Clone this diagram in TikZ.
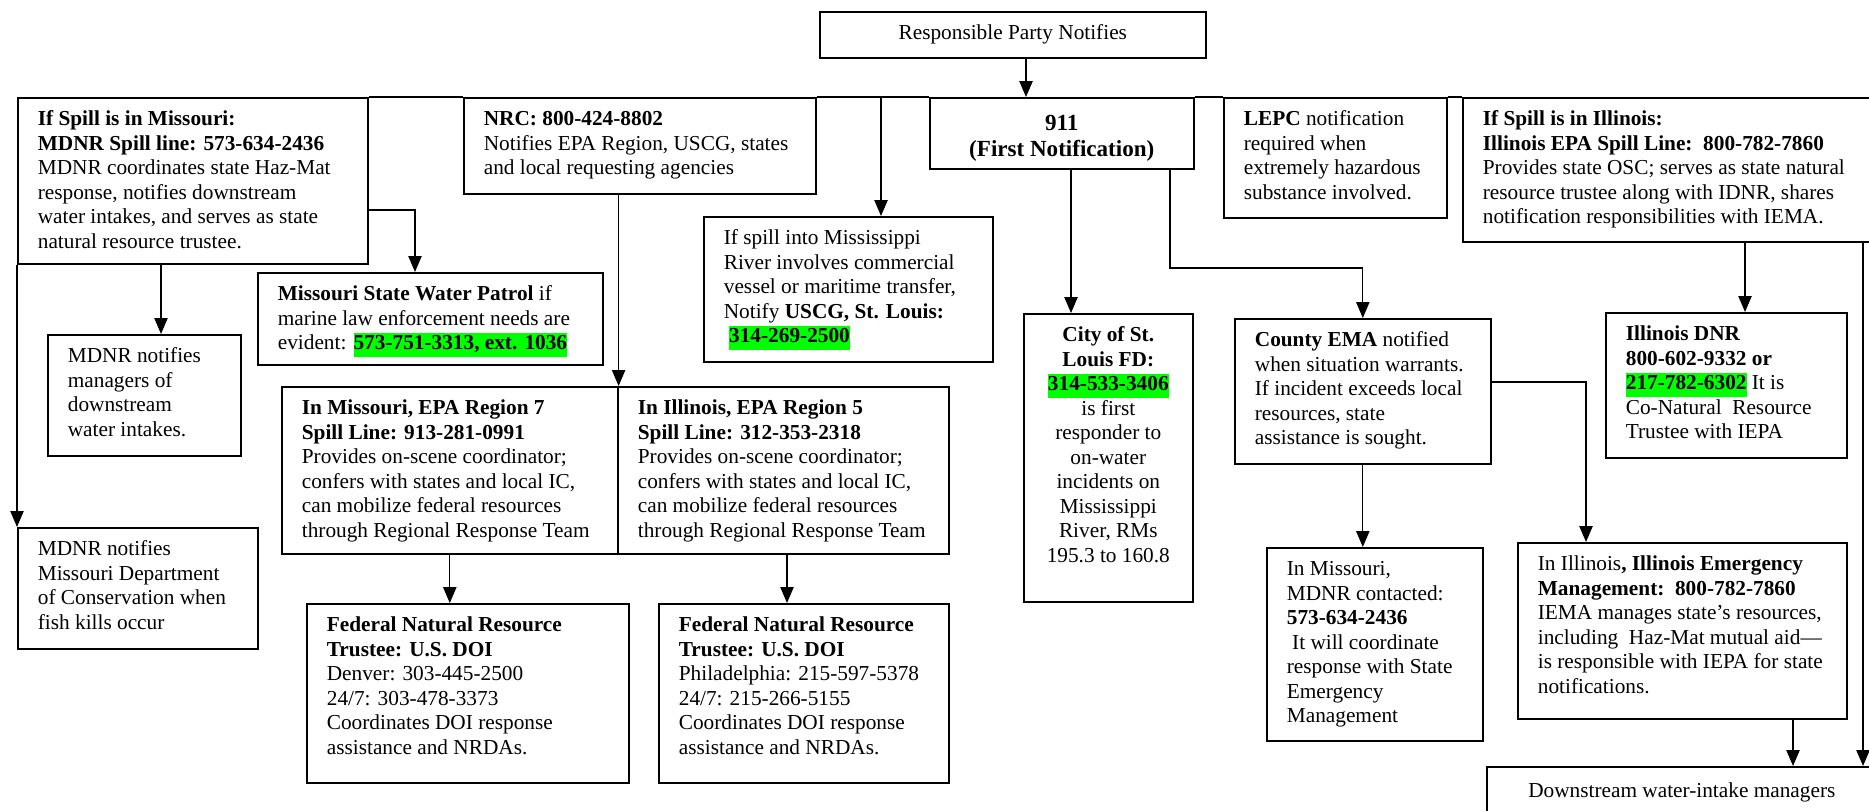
\documentclass[tikz,border=0pt]{standalone}
\usepackage{fontspec}
\setmainfont{Liberation Serif}
\usepackage{xcolor}
\usepackage{tikz}
\usetikzlibrary{arrows.meta}
\definecolor{hlgreen}{RGB}{0,255,0}
\newdimen\pxu
\pxu=0.5634pt
\newcommand{\hl}[1]{{\setlength{\fboxsep}{0pt}\colorbox{hlgreen}{\strut#1}}}
\newcommand{\cardtext}[4][\raggedright\leftskip=11.3pt\relax]{\begin{minipage}[t][#3\pxu][t]{#2\pxu}#1\rule{0pt}{15.8pt}#4\end{minipage}}

\begin{document}
\begin{tikzpicture}[x=0.5634pt,y=-0.5634pt,font=\fontsize{12}{13.8}\selectfont,
	card/.style={draw,line width=0.9pt,anchor=north west,inner sep=0pt},
	arr/.style={line width=0.75pt,-{Triangle[length=9pt,width=7.5pt]}},
	bus/.style={line width=1.3pt}]
	\useasboundingbox (0,0) rectangle (1869,810);
	\clip (0,0) rectangle (1869,810);
	
	\node[card] (top) at (819,11) {\cardtext[\centering]{386}{46}{Responsible Party Notifies}};
	\node[card] (mo) at (17,97) {\cardtext{350}{166}{\textbf{If Spill is in Missouri:}\\
		\textbf{MDNR Spill line: 573-634-2436}\\
		MDNR coordinates state Haz-Mat\\
		response, notifies downstream\\
		water intakes, and serves as state\\
		natural resource trustee.}};
	\node[card] (nrc) at (463,97) {\cardtext{352}{96}{\textbf{NRC: 800-424-8802}\\
		Notifies EPA Region, USCG, states\\
		and local requesting agencies}};
	\node[card] (n911) at (929,97) {\cardtext[\centering\vspace*{2.5pt}]{264}{71}{\fontsize{13}{15}\selectfont\bfseries 911\\(First Notification)}};
	\node[card] (lepc) at (1223,97) {\cardtext{223}{120}{\textbf{LEPC} notification\\
		required when\\
		extremely hazardous\\
		substance involved.}};
	\node[card] (il) at (1462,97) {\cardtext{410}{144}{\textbf{If Spill is in Illinois:}\\
		\textbf{Illinois EPA Spill Line:\ \ 800-782-7860}\\
		Provides state OSC; serves as state natural\\
		resource trustee along with IDNR, shares\\
		notification responsibilities with IEMA.}};
	\node[card] (miss) at (703,216) {\cardtext{289}{145}{If spill into Mississippi\\
		River involves commercial\\
		vessel or maritime transfer,\\
		Notify \textbf{USCG, St. Louis:}\\
		\hspace{3pt}\hl{\textbf{314-269-2500}}}};
	\node[card] (wp) at (257,272) {\cardtext{345}{92}{\textbf{Missouri State Water Patrol} if\\
		marine law enforcement needs are\\
		evident: \hl{\textbf{573-751-3313, ext. 1036}}}};
	\node[card] (mgr) at (47,334) {\cardtext{193}{121}{MDNR notifies\\
		managers of\\
		downstream\\
		water intakes.}};
	\node[card] (cons) at (17,527) {\cardtext{240}{121}{MDNR notifies\\
		Missouri Department\\
		of Conservation when\\
		fish kills occur}};
	\node[card] (epa7) at (281,386) {\cardtext{336}{167}{\textbf{In Missouri, EPA Region 7}\\
		\textbf{Spill Line: 913-281-0991}\\
		Provides on-scene coordinator;\\
		confers with states and local IC,\\
		can mobilize federal resources\\
		through Regional Response Team}};
	\node[card] (epa5) at (617,386) {\cardtext{331}{167}{\textbf{In Illinois, EPA Region 5}\\
		\textbf{Spill Line: 312-353-2318}\\
		Provides on-scene coordinator;\\
		confers with states and local IC,\\
		can mobilize federal resources\\
		through Regional Response Team}};
	\node[card] (fed1) at (306,603) {\cardtext{322}{179}{\textbf{Federal Natural Resource}\\
		\textbf{Trustee: U.S. DOI}\\
		Denver: 303-445-2500\\
		24/7: 303-478-3373\\
		Coordinates DOI response\\
		assistance and NRDAs.}};
	\node[card] (fed2) at (658,603) {\cardtext{290}{179}{\textbf{Federal Natural Resource}\\
		\textbf{Trustee: U.S. DOI}\\
		Philadelphia: 215-597-5378\\
		24/7: 215-266-5155\\
		Coordinates DOI response\\
		assistance and NRDAs.}};
	\node[card] (city) at (1023,313) {\cardtext[\centering]{169}{288}{\textbf{City of St.}\\
		\textbf{Louis FD:}\\
		\hl{\textbf{314-533-3406}}\\
		is first\\
		responder to\\
		on-water\\
		incidents on\\
		Mississippi\\
		River, RMs\\
		195.3 to 160.8}};
	\node[card] (ema) at (1234,318) {\cardtext{256}{145}{\textbf{County EMA} notified\\
		when situation warrants.\\
		If incident exceeds local\\
		resources, state\\
		assistance is sought.}};
	\node[card] (dnr) at (1605,312) {\cardtext{241}{145}{\textbf{Illinois DNR}\\
		\textbf{800-602-9332 or}\\
		\hl{\textbf{217-782-6302}} It is\\
		Co-Natural\ \ Resource\\
		Trustee with IEPA}};
	\node[card] (moc) at (1266,547) {\cardtext{216}{193}{In Missouri,\\
		MDNR contacted:\\
		\textbf{573-634-2436}\\
		\hspace{0.25em}It will coordinate\\
		response with State\\
		Emergency\\
		Management}};
	\node[card] (iema) at (1517,542) {\cardtext{329}{176}{In Illinois\textbf{, Illinois Emergency}\\
		\textbf{Management:\ \ 800-782-7860}\\
		IEMA manages state’s resources,\\
		including\ \ Haz-Mat mutual aid---\\
		is responsible with IEPA for state\\
		notifications.}};
	\node[card] (down) at (1486,766) {\cardtext[\centering\vspace*{1.7pt}]{390}{60}{Downstream water-intake managers}};
	
	\foreach \n/\x/\y in {kA/1026/0,kB/881/0,kD/415/210,kE/161/0,kF/1071/0,kG/1170/268,kI/1586/382,kJ/1745/0,kK/1863/0,kL/1793/0,kM/787/0}{
		\coordinate (\n) at (\x,\y);
	}
	
	\draw[bus] (mo.north east) -- (nrc.north west) (nrc.north east) -- (n911.north west) (n911.north east) -- (lepc.north west) (lepc.north east) -- (il.north west);
	
	\foreach \s/\t in {top.south -| kA/n911.north -| kA,nrc.north east -| kB/miss.north -| kB,nrc.south -| epa7.north east/epa7.north east,mo.south -| kE/mgr.north -| kE,mo.south west/cons.north west,epa7.south/fed1.north -| epa7.south,epa5.south -| kM/fed2.north -| kM,n911.south -| kF/city.north -| kF,ema.south/moc.north -| ema.south,il.south -| kJ/dnr.north -| kJ,il.south -| kK/down.north -| kK,iema.south -| kL/down.north -| kL}{
		\draw[arr] (\s) -- (\t);
	}
	
	\draw[arr] (mo.east |- kD) -| (wp.north -| kD);
	\draw[arr] (n911.south -| kG) -- (kG) -| (ema.north);
	\draw[arr] (ema.east |- kI) -| (iema.north -| kI);
\end{tikzpicture}
\end{document}
